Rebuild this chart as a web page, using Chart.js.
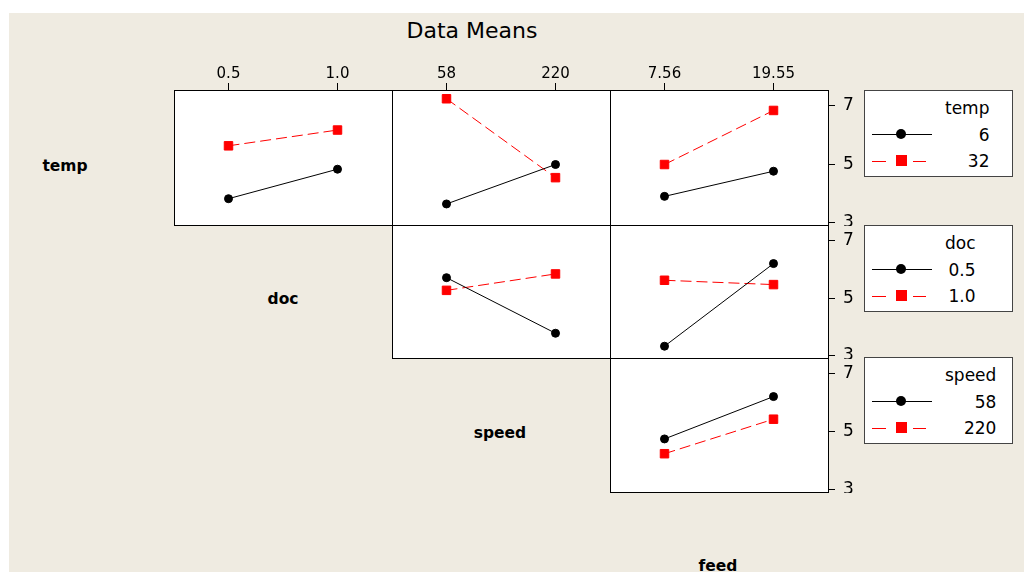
<!DOCTYPE html>
<html><head><meta charset="utf-8">
<script src="https://cdn.jsdelivr.net/npm/chart.js@4.4.1/dist/chart.umd.min.js"></script>
<style>
html,body{margin:0;padding:0;background:#fff;width:1024px;height:572px;overflow:hidden;position:relative;}
#bg{position:absolute;left:9px;top:13px;width:1015px;height:559px;background:#EFEBE1;}
canvas{position:absolute;}
.t{position:absolute;font-family:'DejaVu Sans',sans-serif;color:#000;white-space:nowrap;line-height:1;}
.fac{font-weight:bold;font-size:15.5px;transform:translateX(-50%);}
#title{font-size:22px;left:472px;top:20px;transform:translateX(-50%);}
.leg{position:absolute;left:864px;width:147px;height:85px;border:1px solid #444;background:#fff;}
.col{position:absolute;left:80px;top:4px;text-align:right;font-family:'DejaVu Sans',sans-serif;font-size:17px;line-height:26.5px;color:#000;white-space:nowrap;}
.bl{position:absolute;left:7px;top:43px;width:60px;height:1px;background:#000;}
.bc{position:absolute;left:31px;top:38px;width:10px;height:10px;border-radius:50%;background:#000;}
.rl{position:absolute;top:70px;height:1px;background:#f00;}
.rs{position:absolute;left:31px;top:64px;width:11px;height:11px;background:#f00;}
</style>
</head><body>
<div id="bg"></div>
<div class="t" id="title">Data Means</div>
<div class="t fac" style="left:65px;top:159px;">temp</div>
<div class="t fac" style="left:283px;top:292px;">doc</div>
<div class="t fac" style="left:500px;top:426px;">speed</div>
<div class="t fac" style="left:718px;top:559px;">feed</div>
<div id="legends"></div>
<script>
// ---- data ----
const factorNames = ['temp', 'doc', 'speed', 'feed'];
const tempLevels = ['6', '32'];
const docLevels = ['0.5', '1.0'];
const speedLevels = ['58', '220'];
const feedLevels = ['7.56', '19.55'];
const yTickValues = [3, 5, 7];

// temp (rows) x doc / speed / feed (columns)
const temp6_byDoc = [3.82, 4.83];
const temp32_byDoc = [5.63, 6.17];
const temp6_bySpeed = [3.64, 4.99];
const temp32_bySpeed = [7.24, 4.54];
const temp6_byFeed = [3.90, 4.76];
const temp32_byFeed = [4.99, 6.84];
// doc x speed / feed
const doc05_bySpeed = [5.71, 3.78];
const doc10_bySpeed = [5.27, 5.84];
const doc05_byFeed = [3.33, 6.20];
const doc10_byFeed = [5.62, 5.47];
// speed x feed
const speed58_byFeed = [4.75, 6.21];
const speed220_byFeed = [4.24, 5.43];

// ---- layout ----
const colLeft = [174, 392, 610];
const colWidth = 218;
const rowTop = [90, 225, 358];
const rowHeight = [135, 133, 134];
const Y_MIN = 2.92, Y_MAX = 7.54;
const FONT = "'DejaVu Sans', sans-serif";

const framePlugin = {
  id: 'frame',
  beforeDraw(chart) {
    const a = chart.chartArea, ctx = chart.ctx;
    ctx.save(); ctx.fillStyle = '#fff';
    ctx.fillRect(a.left, a.top, a.right - a.left, a.bottom - a.top);
    ctx.restore();
  },
  beforeDatasetsDraw(chart) {
    const a = chart.chartArea, ctx = chart.ctx;
    ctx.save(); ctx.strokeStyle = '#000'; ctx.lineWidth = 1;
    ctx.strokeRect(a.left + 0.5, a.top + 0.5, a.right - a.left, a.bottom - a.top);
    ctx.restore();
  }
};

function zeroPad(s) { s.paddingTop = 0; s.paddingBottom = 0; s.paddingLeft = 0; s.paddingRight = 0; }

function ds(vals, kind) {
  const pts = vals.map((v, i) => ({x: i, y: v}));
  if (kind === 'black') {
    return {data: pts, borderColor: '#000', backgroundColor: '#000', borderWidth: 1,
      pointStyle: 'circle', pointRadius: 4, pointBorderWidth: 1, pointBorderColor: '#000', pointBackgroundColor: '#000'};
  }
  return {data: pts, borderColor: '#ff0000', backgroundColor: '#ff0000', borderWidth: 1, borderDash: [11, 5],
    pointStyle: 'rect', pointRadius: 6, pointBorderWidth: 1, pointBorderColor: '#ff0000', pointBackgroundColor: '#ff0000'};
}

function makePanel(p) {
  const axT = p.showTop ? 30 : 0;
  const axR = p.showRight ? 40 : 0;
  const w = colWidth, h = rowHeight[p.row];
  const c = document.createElement('canvas');
  c.width = w + 1 + axR; c.height = axT + h + 1;
  c.style.left = colLeft[p.col] + 'px';
  c.style.top = (rowTop[p.row] - axT) + 'px';
  document.body.appendChild(c);
  new Chart(c, {
    type: 'line',
    data: {datasets: [ds(p.black, 'black'), ds(p.red, 'red')]},
    options: {
      responsive: false, animation: false, devicePixelRatio: 1, events: [],
      layout: {padding: {left: 0, top: 0, right: 1, bottom: 1}, autoPadding: false},
      plugins: {legend: {display: false}, tooltip: {enabled: false}},
      scales: {
        x: {type: 'linear', position: 'top', display: p.showTop, min: -0.5, max: 1.5,
          afterBuildTicks: s => { s.ticks = [{value: 0}, {value: 1}]; },
          afterFit: s => { s.height = axT; zeroPad(s); },
          ticks: {callback: (v, i) => p.xLabels[i], color: '#000', font: {family: FONT, size: 15},
            padding: 0, maxRotation: 0, autoSkip: false},
          grid: {display: true, drawOnChartArea: false, drawTicks: true, tickLength: 7, color: '#000'},
          border: {display: false}},
        y: {type: 'linear', position: 'right', display: p.showRight, min: Y_MIN, max: Y_MAX,
          afterBuildTicks: s => { s.ticks = yTickValues.map(v => ({value: v})); },
          afterFit: s => { s.width = axR; zeroPad(s); },
          ticks: {color: '#000', font: {family: FONT, size: 17}, padding: 8, autoSkip: false},
          grid: {display: true, drawOnChartArea: false, drawTicks: true, tickLength: 7, color: '#000'},
          border: {display: false}}
      }
    },
    plugins: [framePlugin]
  });
}

makePanel({row: 0, col: 0, showTop: true, showRight: false, xLabels: docLevels, black: temp6_byDoc, red: temp32_byDoc});
makePanel({row: 0, col: 1, showTop: true, showRight: false, xLabels: speedLevels, black: temp6_bySpeed, red: temp32_bySpeed});
makePanel({row: 0, col: 2, showTop: true, showRight: true, xLabels: feedLevels, black: temp6_byFeed, red: temp32_byFeed});
makePanel({row: 1, col: 1, showTop: false, showRight: false, xLabels: speedLevels, black: doc05_bySpeed, red: doc10_bySpeed});
makePanel({row: 1, col: 2, showTop: false, showRight: true, xLabels: feedLevels, black: doc05_byFeed, red: doc10_byFeed});
makePanel({row: 2, col: 2, showTop: false, showRight: true, xLabels: feedLevels, black: speed58_byFeed, red: speed220_byFeed});

// ---- legends ----
const legendDefs = [
  {name: factorNames[0], levels: tempLevels, top: 90},
  {name: factorNames[1], levels: docLevels, top: 225},
  {name: factorNames[2], levels: speedLevels, top: 357}
];
const host = document.getElementById('legends');
legendDefs.forEach(d => {
  const box = document.createElement('div');
  box.className = 'leg'; box.style.top = d.top + 'px';
  box.innerHTML = '<div class="bl"></div><div class="bc"></div>' +
    '<div class="rl" style="left:7px;width:14px"></div><div class="rl" style="left:48px;width:13px"></div><div class="rs"></div>' +
    '<div class="col"><div>' + d.name + '</div><div>' + d.levels[0] + '</div><div>' + d.levels[1] + '</div></div>';
  host.appendChild(box);
});
</script>
</body></html>
